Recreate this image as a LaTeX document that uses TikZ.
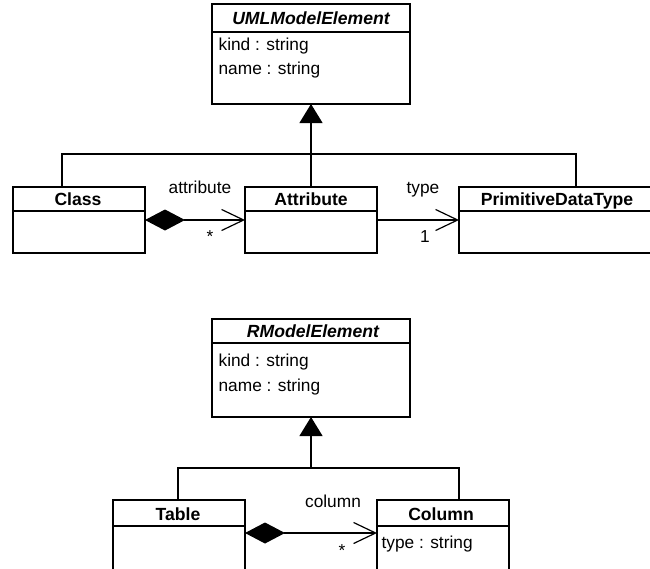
\documentclass[tikz,border=0pt]{standalone}
\usepackage{fontspec}
\setmainfont{Liberation Sans}
\usetikzlibrary{arrows.meta, positioning, calc}

\begin{document}
\begin{tikzpicture}[
    x=1pt, y=-1pt, line width=1.2pt,
    umlbox/.style={rectangle, draw, line width=1.2pt, outer sep=0pt, inner sep=0pt,
                   anchor=north west},
    title/.style={font=\fontsize{17.6}{20}\selectfont\bfseries, inner sep=0pt, anchor=base},
    abstract/.style={title, font=\fontsize{17.6}{20}\selectfont\bfseries\itshape},
    attr/.style={font=\fontsize{17.3}{20}\selectfont, inner sep=0pt, anchor=base west},
    role/.style={font=\fontsize{17.3}{20}\selectfont, inner sep=0pt, anchor=base},
    generalize/.style={-{Triangle[length=19pt, width=23pt]}},
    compose/.style={{Diamond[length=40pt, width=21pt]}-{Straight Barb[length=22pt, width=21pt]}},
    assoc/.style={-{Straight Barb[length=22pt, width=21pt]}}
]
    \fill[white] (0,0) rectangle (650,568);
    \useasboundingbox (0,0) rectangle (650,568);

    % UML metamodel
    \node[umlbox, minimum width=198pt, minimum height=100pt] (umlElem) at (212,4) {};
    \draw ([yshift=-28pt]umlElem.north west) -- ([yshift=-28pt]umlElem.north east);
    \node[abstract] (umlElemT) at (311,24) {UMLModelElement};
    \node[attr] (umlKind) at (218,50) {kind : string};
    \node[attr] (umlName) at (218,74) {name : string};

    \node[umlbox, minimum width=132pt, minimum height=66pt] (class) at (13,187) {};
    \draw ([yshift=-24pt]class.north west) -- ([yshift=-24pt]class.north east);
    \node[title] (classT) at (78,205) {Class};

    \node[umlbox, minimum width=132pt, minimum height=66pt] (attribute) at (245,187) {};
    \draw ([yshift=-24pt]attribute.north west) -- ([yshift=-24pt]attribute.north east);
    \node[title] (attributeT) at (311,205) {Attribute};

    \node[umlbox, minimum width=234pt, minimum height=66pt] (pdt) at (459,187) {};
    \draw ([yshift=-24pt]pdt.north west) -- ([yshift=-24pt]pdt.north east);
    \node[title] (pdtT) at (557,205) {PrimitiveDataType};

    \coordinate (umlJoin) at ($(umlElem.south)+(0,50)$);
    \draw[generalize] (umlJoin) -- (umlElem.south);
    \draw (umlJoin) -| ([xshift=-17pt]class.north);
    \draw (umlJoin) -- (attribute.north);
    \draw (umlJoin) -| (pdt.north);

    \draw[compose] (class.east) -- (attribute.west);
    \node[role] (attrRole) at (200,193) {attribute};
    \node[role] (attrMult) at (210,242) {*};

    \draw[assoc] (attribute.east) -- (pdt.west);
    \node[role] (typeRole) at (423,193) {type};
    \node[role] (typeMult) at (425,242) {1};

    % relational metamodel
    \node[umlbox, minimum width=198pt, minimum height=98pt] (rElem) at (212,319) {};
    \draw ([yshift=-24pt]rElem.north west) -- ([yshift=-24pt]rElem.north east);
    \node[abstract] (rElemT) at (313,337) {RModelElement};
    \node[attr] (rKind) at (218,366) {kind : string};
    \node[attr] (rName) at (218,391) {name : string};

    \node[umlbox, minimum width=132pt, minimum height=70pt] (table) at (113,500) {};
    \draw ([yshift=-26pt]table.north west) -- ([yshift=-26pt]table.north east);
    \node[title] (tableT) at (178,520) {Table};

    \node[umlbox, minimum width=132pt, minimum height=70pt] (column) at (377,500) {};
    \draw ([yshift=-26pt]column.north west) -- ([yshift=-26pt]column.north east);
    \node[title] (columnT) at (441,520) {Column};
    \node[attr] (colType) at (381,548) {type : string};

    \coordinate (rJoin) at ($(rElem.south)+(0,51)$);
    \draw[generalize] (rJoin) -- (rElem.south);
    \draw (rJoin) -| ([xshift=-1pt]table.north);
    \draw (rJoin) -| ([xshift=16pt]column.north);

    \draw[compose] ([yshift=2pt]table.east) -- ([yshift=2pt]column.west);
    \node[role] (colRole) at (333,507) {column};
    \node[role] (colMult) at (342,556) {*};
\end{tikzpicture}
\end{document}
